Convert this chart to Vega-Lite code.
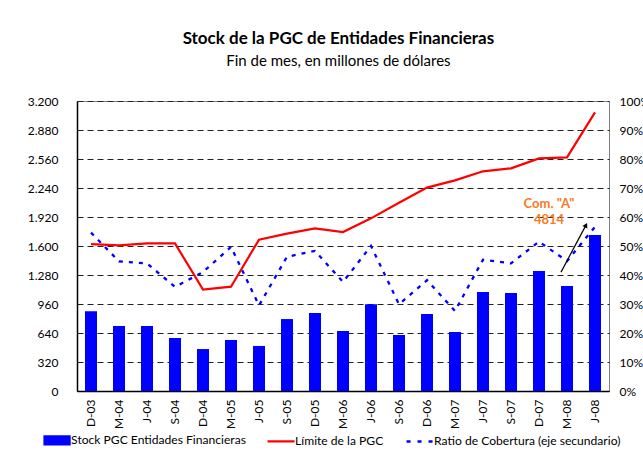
{
  "$schema": "https://vega.github.io/schema/vega-lite/v6.json",
  "width": 532,
  "height": 290,
  "padding": {"left": 27, "top": 30, "right": 2, "bottom": 5},
  "background": "white",
  "title": {
    "text": "Stock de la PGC de Entidades Financieras",
    "subtitle": "Fin de mes, en millones de dólares",
    "fontSize": 17,
    "fontWeight": "bold",
    "subtitleFontSize": 15,
    "subtitleColor": "black",
    "subtitlePadding": 6,
    "anchor": "middle",
    "frame": "bounds",
    "offset": 25,
    "color": "black"
  },
  "datasets": {
    "main": [
      {"fecha": "D-03", "stock": 880, "limite": 1620, "ratio": 0.546},
      {"fecha": "M-04", "stock": 717, "limite": 1607, "ratio": 0.447},
      {"fecha": "J-04", "stock": 717, "limite": 1629, "ratio": 0.44},
      {"fecha": "S-04", "stock": 585, "limite": 1629, "ratio": 0.359},
      {"fecha": "D-04", "stock": 463, "limite": 1118, "ratio": 0.41},
      {"fecha": "M-05", "stock": 563, "limite": 1151, "ratio": 0.497},
      {"fecha": "J-05", "stock": 497, "limite": 1670, "ratio": 0.295},
      {"fecha": "S-05", "stock": 794, "limite": 1736, "ratio": 0.463},
      {"fecha": "D-05", "stock": 861, "limite": 1795, "ratio": 0.483},
      {"fecha": "M-06", "stock": 662, "limite": 1754, "ratio": 0.376},
      {"fecha": "J-06", "stock": 956, "limite": 1905, "ratio": 0.5},
      {"fecha": "S-06", "stock": 618, "limite": 2078, "ratio": 0.299},
      {"fecha": "D-06", "stock": 850, "limite": 2244, "ratio": 0.382},
      {"fecha": "M-07", "stock": 651, "limite": 2324, "ratio": 0.276},
      {"fecha": "J-07", "stock": 1092, "limite": 2424, "ratio": 0.453},
      {"fecha": "S-07", "stock": 1081, "limite": 2457, "ratio": 0.44},
      {"fecha": "D-07", "stock": 1324, "limite": 2567, "ratio": 0.515},
      {"fecha": "M-08", "stock": 1159, "limite": 2578, "ratio": 0.448},
      {"fecha": "J-08", "stock": 1721, "limite": 3075, "ratio": 0.566}
    ],
    "notes": [
      {"fecha": "M-08", "y": 0.645, "label": "Com. \"A\""},
      {"fecha": "M-08", "y": 0.588, "label": "4814"}
    ],
    "arrow": [
      {"x1": "M-08", "x2": "J-08", "y1": 0.41, "y2": 0.572}
    ]
  },
  "layer": [
    {
      "layer": [
        {
          "data": {"name": "main"},
          "mark": {"type": "bar", "width": 12},
          "encoding": {
            "x": {
              "field": "fecha",
              "type": "nominal",
              "sort": null,
              "scale": {
                "domain": ["D-03","M-04","J-04","S-04","D-04","M-05","J-05","S-05","D-05","M-06","J-06","S-06","D-06","M-07","J-07","S-07","D-07","M-08","J-08"],
                "paddingInner": 0,
                "paddingOuter": 0
              },
              "axis": {
                "title": null,
                "labelAngle": -90,
                "labelPadding": 8,
                "ticks": false,
                "domainColor": "black",
                "domainWidth": 1.5,
                "labelFontSize": 12,
                "labelColor": "black"
              }
            },
            "y": {
              "field": "stock",
              "type": "quantitative",
              "scale": {"domain": [0, 3200], "nice": false},
              "axis": {
                "title": null,
                "orient": "left",
                "values": [0, 320, 640, 960, 1280, 1600, 1920, 2240, 2560, 2880, 3200],
                "tickCount": 11,
                "labelExpr": "replace(format(datum.value, ','), ',', '.')",
                "labelOverlap": false,
                "ticks": false,
                "labelPadding": 19,
                "domainColor": "black",
                "domainWidth": 1.5,
                "grid": true,
                "gridColor": "#222",
                "gridDash": [6, 4],
                "gridWidth": 1,
                "labelFontSize": 12,
                "labelColor": "black"
              }
            },
            "color": {
              "datum": "Stock PGC Entidades Financieras",
              "scale": {
                "domain": ["Stock PGC Entidades Financieras", "Límite de la PGC", "Ratio de Cobertura (eje secundario)"],
                "range": ["#0000FF", "#FF0000", "#0000FF"]
              },
              "legend": {
                "title": null,
                "orient": "none",
                "direction": "horizontal",
                "legendX": -26,
                "legendY": 333,
                "labelFontSize": 12.1,
                "labelColor": "black",
                "labelLimit": 0,
                "columnPadding": 17,
                "symbolSize": 729,
                "labelOffset": 8,
                "encode": {
                  "symbols": {
                    "update": {
                      "shape": {"signal": "datum.value === 'Stock PGC Entidades Financieras' ? 'M-0.93,-0.3H0.93V0.3H-0.93Z' : 'stroke'"},
                      "fill": {"signal": "datum.value === 'Stock PGC Entidades Financieras' ? '#0000FF' : 'transparent'"},
                      "stroke": {"signal": "datum.value === 'Stock PGC Entidades Financieras' ? 'transparent' : (datum.value === 'Límite de la PGC' ? '#FF0000' : '#0000FF')"},
                      "strokeWidth": {"signal": "datum.value === 'Ratio de Cobertura (eje secundario)' ? 2.5 : 2.2"},
                      "strokeDash": {"signal": "datum.value === 'Ratio de Cobertura (eje secundario)' ? [4, 7] : [1, 0]"},
                      "opacity": {"value": 1}
                    }
                  }
                }
              }
            }
          }
        },
        {
          "data": {"name": "main"},
          "mark": {"type": "line", "strokeWidth": 2.2},
          "encoding": {
            "x": {"field": "fecha", "type": "nominal", "sort": null},
            "y": {"field": "limite", "type": "quantitative"},
            "color": {"datum": "Límite de la PGC"}
          }
        }
      ]
    },
    {
      "layer": [
        {
          "data": {"name": "main"},
          "mark": {"type": "line", "strokeWidth": 2.3, "strokeDash": [4, 6]},
          "encoding": {
            "x": {"field": "fecha", "type": "nominal", "sort": null},
            "y": {
              "field": "ratio",
              "type": "quantitative",
              "scale": {"domain": [0, 1], "nice": false},
              "axis": {
                "title": null,
                "orient": "right",
                "format": ".0%",
                "values": [0, 0.1, 0.2, 0.3, 0.4, 0.5, 0.6, 0.7, 0.8, 0.9, 1],
                "tickCount": 11,
                "labelOverlap": false,
                "ticks": false,
                "domain": false,
                "grid": false,
                "labelPadding": 10,
                "labelFontSize": 12,
                "labelColor": "black"
              }
            },
            "color": {"datum": "Ratio de Cobertura (eje secundario)"}
          }
        },
        {
          "data": {"name": "arrow"},
          "mark": {"type": "rule", "color": "black", "strokeWidth": 1.2, "xOffset": -6, "x2Offset": -9},
          "encoding": {
            "x": {"field": "x1", "type": "nominal"},
            "x2": {"field": "x2"},
            "y": {"field": "y1", "type": "quantitative"},
            "y2": {"field": "y2"}
          }
        },
        {
          "data": {"name": "arrow"},
          "mark": {"type": "point", "shape": "triangle-up", "filled": true, "color": "black", "size": 30, "angle": 28, "xOffset": -9, "opacity": 1},
          "encoding": {
            "x": {"field": "x2", "type": "nominal"},
            "y": {"field": "y2", "type": "quantitative"}
          }
        },
        {
          "data": {"name": "notes"},
          "mark": {"type": "text", "color": "#F97A1F", "fontWeight": "bold", "fontSize": 13, "dx": -18},
          "encoding": {
            "x": {"field": "fecha", "type": "nominal"},
            "y": {"field": "y", "type": "quantitative"},
            "text": {"field": "label"}
          }
        }
      ]
    }
  ],
  "resolve": {"scale": {"y": "independent"}},
  "config": {
    "font": "Lato",
    "view": {"stroke": "#808080", "strokeWidth": 1}
  }
}
